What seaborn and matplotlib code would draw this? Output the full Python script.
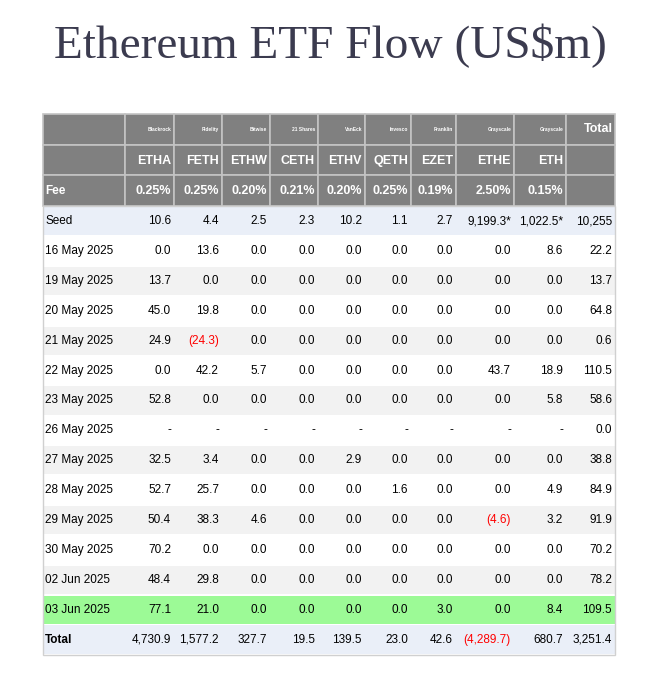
import matplotlib
matplotlib.use('Agg')
import matplotlib.pyplot as plt
import seaborn as sns
from matplotlib.patches import Rectangle

sns.set_style('white')
plt.rcParams['font.family'] = ['Liberation Sans', 'DejaVu Sans']

issuers = ['Blackrock', 'Fidelity', 'Bitwise', '21 Shares', 'VanEck', 'Invesco', 'Franklin', 'Grayscale', 'Grayscale']
tickers = ['ETHA', 'FETH', 'ETHW', 'CETH', 'ETHV', 'QETH', 'EZET', 'ETHE', 'ETH']
fees = ['0.25%', '0.25%', '0.20%', '0.21%', '0.20%', '0.25%', '0.19%', '2.50%', '0.15%']
row_labels = ['Seed', '16 May 2025', '19 May 2025', '20 May 2025', '21 May 2025', '22 May 2025',
              '23 May 2025', '26 May 2025', '27 May 2025', '28 May 2025', '29 May 2025',
              '30 May 2025', '02 Jun 2025', '03 Jun 2025', 'Total']
rows = [
    ['10.6', '4.4', '2.5', '2.3', '10.2', '1.1', '2.7', '9,199.3*', '1,022.5*', '10,255'],
    ['0.0', '13.6', '0.0', '0.0', '0.0', '0.0', '0.0', '0.0', '8.6', '22.2'],
    ['13.7', '0.0', '0.0', '0.0', '0.0', '0.0', '0.0', '0.0', '0.0', '13.7'],
    ['45.0', '19.8', '0.0', '0.0', '0.0', '0.0', '0.0', '0.0', '0.0', '64.8'],
    ['24.9', '(24.3)', '0.0', '0.0', '0.0', '0.0', '0.0', '0.0', '0.0', '0.6'],
    ['0.0', '42.2', '5.7', '0.0', '0.0', '0.0', '0.0', '43.7', '18.9', '110.5'],
    ['52.8', '0.0', '0.0', '0.0', '0.0', '0.0', '0.0', '0.0', '5.8', '58.6'],
    ['-', '-', '-', '-', '-', '-', '-', '-', '-', '0.0'],
    ['32.5', '3.4', '0.0', '0.0', '2.9', '0.0', '0.0', '0.0', '0.0', '38.8'],
    ['52.7', '25.7', '0.0', '0.0', '0.0', '1.6', '0.0', '0.0', '4.9', '84.9'],
    ['50.4', '38.3', '4.6', '0.0', '0.0', '0.0', '0.0', '(4.6)', '3.2', '91.9'],
    ['70.2', '0.0', '0.0', '0.0', '0.0', '0.0', '0.0', '0.0', '0.0', '70.2'],
    ['48.4', '29.8', '0.0', '0.0', '0.0', '0.0', '0.0', '0.0', '0.0', '78.2'],
    ['77.1', '21.0', '0.0', '0.0', '0.0', '0.0', '3.0', '0.0', '8.4', '109.5'],
    ['4,730.9', '1,577.2', '327.7', '19.5', '139.5', '23.0', '42.6', '(4,289.7)', '680.7', '3,251.4'],
]

col_edges = [43, 125, 174, 222, 270, 318, 365, 411, 456, 514, 566, 615]
top = 114
hh = 30.7
body_top = top + 3 * hh
rh = 29.9

fig = plt.figure(figsize=(6.62, 6.80), dpi=100)
ax = fig.add_axes([0, 0, 1, 1])
ax.set_xlim(0, 662)
ax.set_ylim(680, 0)
ax.axis('off')

ax.text(330, 46, 'Ethereum ETF Flow (US$m)', ha='center', va='center', fontsize=34,
        family=['Liberation Serif', 'DejaVu Serif'], color='#3b3b4f')

grey = '#808080'

# header rows
for ri in range(3):
    y0 = top + ri * hh
    yc = y0 + hh / 2
    for ci in range(11):
        x0, x1 = col_edges[ci], col_edges[ci + 1]
        ax.add_patch(Rectangle((x0, y0), x1 - x0, hh, facecolor=grey, edgecolor='#c4c4c4', lw=1.2))
        if ci == 0:
            if ri == 2:
                ax.text(x0 + 2, yc, 'Fee', ha='left', va='center', color='white', fontsize=8.5, weight='bold')
            continue
        if ci == 10:
            if ri == 0:
                ax.text(x1 - 2, yc, 'Total', ha='right', va='center', color='white', fontsize=9, weight='bold')
            continue
        txt = [issuers, tickers, fees][ri][ci - 1]
        fs = 3.5 if ri == 0 else 9
        ax.text(x1 - 3, yc + (1 if ri == 1 else 0), txt, ha='right', va='center', color='white', fontsize=fs, weight='bold')

for i, (lab, vals) in enumerate(zip(row_labels, rows)):
    y0 = body_top + i * rh
    yc = y0 + rh / 2
    if lab == 'Seed' or lab == 'Total':
        face = '#eaeff8'
    elif lab == '03 Jun 2025':
        face = '#9cfa96'
    elif i % 2 == 0:
        face = '#f2f2f2'
    else:
        face = 'white'
    ax.add_patch(Rectangle((col_edges[0], y0 + 0.8), col_edges[-1] - col_edges[0], rh - 1.6,
                           facecolor=face, edgecolor='none'))
    wt = 'bold' if lab == 'Total' else 'normal'
    ax.text(col_edges[0] + 2, yc, lab, ha='left', va='center', fontsize=8.5, color='black', weight=wt)
    for ci, v in enumerate(vals, start=1):
        col = 'red' if v.startswith('(') else 'black'
        ax.text(col_edges[ci + 1] - 3, yc, v, ha='right', va='center', fontsize=8.5, color=col)

# outer frame of body
ax.add_patch(Rectangle((col_edges[0], body_top), col_edges[-1] - col_edges[0],
                       len(rows) * rh, facecolor='none', edgecolor='#d0d0d0', lw=1))

fig.savefig('out.png', dpi=100)
